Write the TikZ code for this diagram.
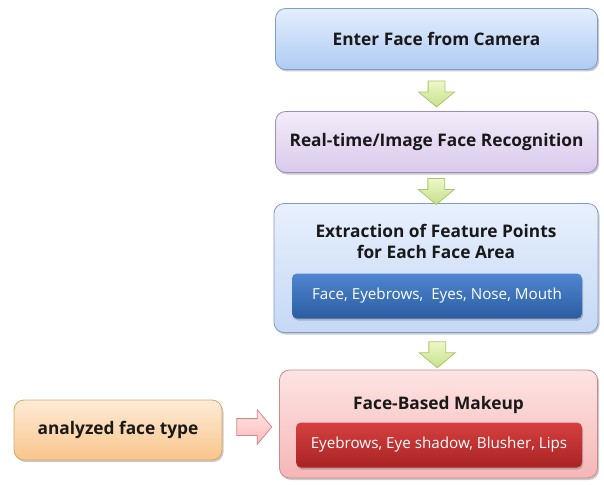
\documentclass[tikz,border=0pt]{standalone}
\usepackage{fontspec}
\setmainfont{Open Sans}
\usetikzlibrary{shadows,shapes.arrows,calc}
\definecolor{bordblue}{HTML}{7F9CC8}
\definecolor{bordpurp}{HTML}{9F8CB8}
\definecolor{bordpink}{HTML}{C98A8A}
\definecolor{bordor}{HTML}{D9A66A}
\definecolor{grtop}{HTML}{EEF7C8}
\definecolor{grbot}{HTML}{C6E08A}
\definecolor{grbord}{HTML}{A9C76A}
\definecolor{b1top}{HTML}{E4EEFD}
\definecolor{b1bot}{HTML}{AFCBF3}
\definecolor{b2top}{HTML}{F3ECF9}
\definecolor{b2bot}{HTML}{D9C9EC}
\definecolor{b3top}{HTML}{E8F0FD}
\definecolor{b3bot}{HTML}{C5D8F5}
\definecolor{b4top}{HTML}{FDE4E4}
\definecolor{b4bot}{HTML}{F6B6B6}
\definecolor{ortop}{HTML}{FDEBD6}
\definecolor{orbot}{HTML}{F9C58C}
\definecolor{iblutop}{HTML}{4F86CF}
\definecolor{iblubot}{HTML}{2B5DA3}
\definecolor{iredtop}{HTML}{D6403F}
\definecolor{iredbot}{HTML}{A82324}
\begin{document}
\begin{tikzpicture}[x=1pt,y=-1pt,
  box/.style={rounded corners=10pt, draw, line width=0.8pt, minimum width=#1, inner sep=0pt,
    drop shadow={shadow xshift=1.5pt, shadow yshift=-2pt, opacity=0.35, fill=black!60}},
  title/.style={font=\bfseries\fontsize{17.3}{21}\selectfont, align=center, text=black!90},
  inner/.style={rounded corners=5pt, minimum width=#1, minimum height=45pt, inner sep=0pt,
    font=\fontsize{15.2}{18}\selectfont, text=white,
    drop shadow={shadow xshift=1pt, shadow yshift=-2pt, opacity=0.35, fill=black!60}},
  darr/.style={single arrow, draw=grbord, top color=grtop, bottom color=grbot, line width=0.8pt,
    minimum height=26pt, inner sep=8pt, single arrow head extend=9.5pt, single arrow tip angle=100,
    shape border rotate=270},
]
\useasboundingbox (0,0) rectangle (604,484);
% main boxes
\node[box=322pt, minimum height=61pt, draw=bordblue, top color=b1top, bottom color=b1bot, title] (b1) at (436.5,39) {Enter Face from Camera};
\node[box=322pt, minimum height=61pt, draw=bordpurp, top color=b2top, bottom color=b2bot, title] (b2) at (436.5,142) {Real-time/Image Face Recognition};
\node[box=324pt, minimum height=129pt, draw=bordblue, top color=b3top, bottom color=b3bot] (b3) at (436,268) {};
\node[title] (t3) at (436,241) {Extraction of Feature Points\\ for Each Face Area};
\node[inner=290pt, top color=iblutop, bottom color=iblubot] (i3) at (437,296) {Face,\ Eyebrows,\ \ Eyes,\ Nose,\ Mouth};
\node[box=318pt, minimum height=108pt, draw=bordpink, top color=b4top, bottom color=b4bot] (b4) at (438.5,424) {};
\node[title] (t4) at (438.5,405) {Face-Based Makeup};
\node[inner=286pt, top color=iredtop, bottom color=iredbot] (i4) at (439,445) {Eyebrows,\ Eye shadow,\ Blusher,\ Lips};
\node[box=208pt, minimum height=60pt, draw=bordor, top color=ortop, bottom color=orbot, title] (o) at (118,430) {analyzed face type};
% arrows
\node[darr] (a1) at ($(b1.south)!0.5!(b2.north)$) {};
\node[darr] (a2) at ($(b2.south)!0.5!(b3.north)$) {};
\node[darr] (a3) at ($(b3.south)!0.5!(b4.north)$) {};
\node[single arrow, draw=bordpink, top color=red!10!white, bottom color=red!28!white, line width=0.8pt, minimum height=35pt,
    inner sep=8pt, single arrow head extend=9pt, single arrow tip angle=100] (a4) at ($(o.east)!0.5!(b4.west)$) {};
\end{tikzpicture}
\end{document}
